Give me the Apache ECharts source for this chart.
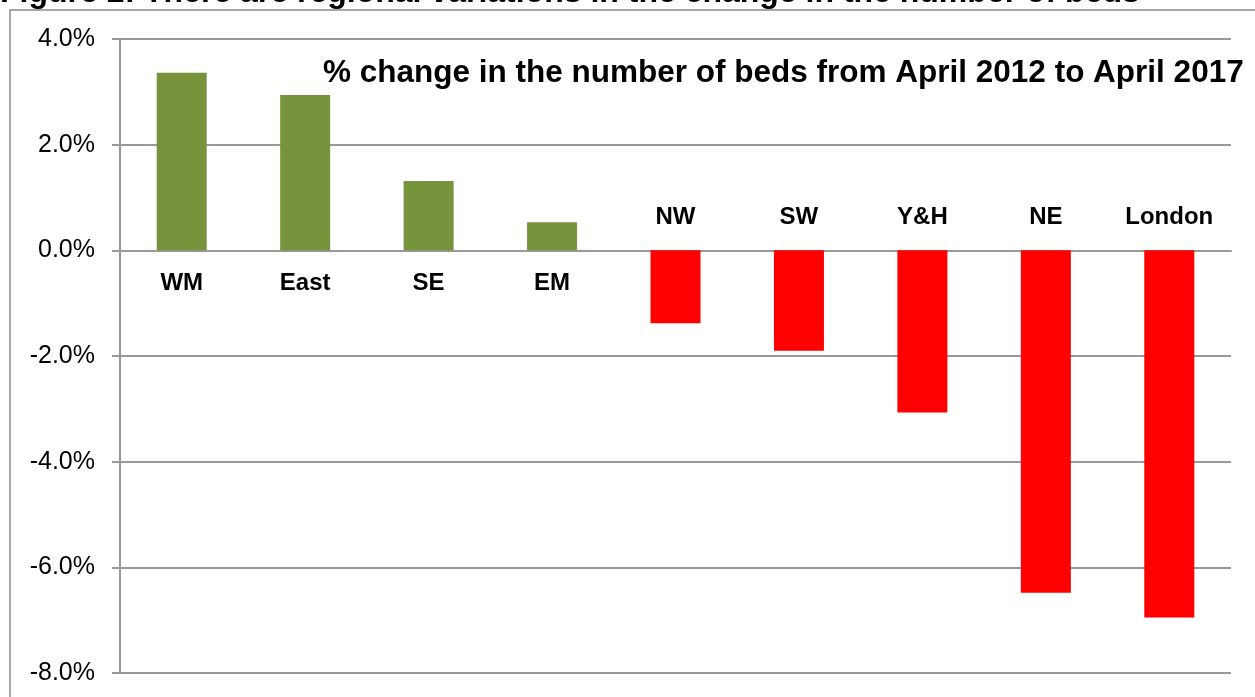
<!DOCTYPE html>
<html>
<head>
<meta charset="utf-8">
<script src="https://cdn.jsdelivr.net/npm/echarts@6/dist/echarts.min.js"></script>
<style>
  html, body { margin: 0; padding: 0; background: #fff; }
  #chart { width: 1255px; height: 697px; }
</style>
</head>
<body>
<div id="chart"></div>
<script>
const regions = ["WM", "East", "SE", "EM", "NW", "SW", "Y&H", "NE", "London"];
const changePct = [3.36, 2.94, 1.31, 0.53, -1.38, -1.90, -3.07, -6.48, -6.95];
const yTicks = [-8, -6, -4, -2, 0, 2, 4];

const font = '"Liberation Sans", Arial, Helvetica, sans-serif';

let myChart = echarts.init(document.getElementById("chart"));

let option = {
  animation: false,
  title: {
    text: "% change in the number of beds from April 2012 to April 2017",
    left: 318,
    top: 52,
    textStyle: {
      fontFamily: font,
      fontSize: 31.5,
      fontWeight: "bold",
      color: "#000"
    }
  },
  graphic: [
    {
      type: "text",
      left: 0,
      top: -23,
      style: {
        text: "Figure 2: There are regional variations in the change in the number of beds",
        font: 'bold 32px "Liberation Sans", Arial, sans-serif',
        fill: "#000"
      }
    },
    {
      type: "rect",
      shape: { x: 10, y: 10, width: 1300, height: 720 },
      style: { fill: "none", stroke: "#8c8c8c", lineWidth: 1.5 }
    }
  ],
  grid: {
    left: 120,
    right: 24,
    top: 39,
    bottom: 24
  },
  xAxis: {
    type: "category",
    data: regions,
    axisLine: { onZero: true, lineStyle: { color: "#999", width: 2 } },
    axisTick: { show: false },
    axisLabel: { show: false }
  },
  yAxis: {
    type: "value",
    min: yTicks[0],
    max: yTicks[yTicks.length - 1],
    interval: 2,
    axisLine: { show: true, lineStyle: { color: "#999", width: 2 } },
    axisTick: { show: true, length: 8, lineStyle: { color: "#999", width: 2 } },
    splitLine: { lineStyle: { color: "#999", width: 2 } },
    axisLabel: {
      margin: 25,
      color: "#000",
      fontFamily: font,
      fontSize: 25,
      formatter: v => v.toFixed(1) + "%"
    }
  },
  series: [
    {
      type: "bar",
      barWidth: 50,
      data: changePct.map(v => ({
        value: v,
        itemStyle: { color: v >= 0 ? "#77933C" : "#FF0000" },
        label: { position: v >= 0 ? "bottom" : "top" }
      })),
      label: {
        show: true,
        distance: 21,
        formatter: "{b}",
        color: "#000",
        fontFamily: font,
        fontSize: 24,
        fontWeight: "bold"
      }
    }
  ]
};
myChart.setOption(option);
window.addEventListener("resize", () => myChart.resize(), false);
</script>
</body>
</html>
